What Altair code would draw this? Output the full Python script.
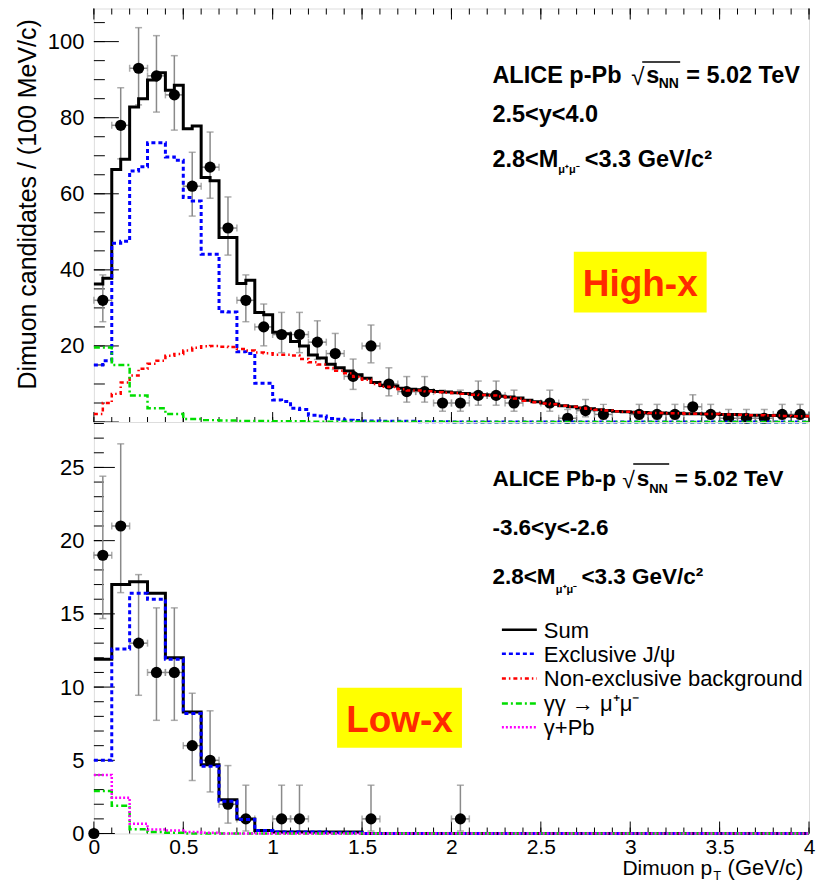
import altair as alt
import pandas as pd

FONT = "Liberation Sans"
GREY = "#8a8a8a"

# ---------------- measured points: p-Pb (high-x) ----------------
hx_x = [0.05, 0.15, 0.25, 0.35, 0.45, 0.55, 0.65, 0.75, 0.85, 0.95,
        1.05, 1.15, 1.25, 1.35, 1.45, 1.55, 1.65, 1.75, 1.85, 1.95,
        2.05, 2.15, 2.25, 2.35, 2.55, 2.65, 2.75, 2.85,
        3.05, 3.15, 3.25, 3.35, 3.45, 3.55, 3.65, 3.75, 3.85, 3.95]
hx_n = [32, 78, 93, 91, 86, 62, 67, 51, 32, 25,
        23, 23, 21, 18, 12, 20, 10, 8, 8, 5,
        5, 7, 7, 5, 5, 1, 3, 2,
        2, 2, 2, 4, 2, 1, 1, 1, 2, 2]
hx_elo = [5.63, 8.82, 9.63, 9.52, 9.26, 7.86, 8.17, 7.12, 5.63, 4.97,
          4.77, 4.77, 4.55, 4.20, 3.42, 4.44, 3.11, 2.77, 2.77, 2.16,
          2.16, 2.58, 2.58, 2.16, 2.16, 0.83, 1.63, 1.29,
          1.29, 1.29, 1.29, 1.91, 1.29, 0.83, 0.83, 0.83, 1.29, 1.29]
hx_ehi = [6.68, 9.88, 10.67, 10.57, 10.31, 8.91, 9.23, 8.17, 6.68, 6.02,
          5.82, 5.82, 5.61, 5.29, 4.55, 5.50, 4.26, 3.95, 3.95, 3.38,
          3.38, 3.77, 3.77, 3.38, 3.38, 2.30, 2.92, 2.64,
          2.64, 2.64, 2.64, 3.16, 2.64, 2.30, 2.30, 2.30, 2.64, 2.64]

# ---------------- measured points: Pb-p (low-x) ----------------
lx_x = [0.0, 0.05, 0.15, 0.25, 0.35, 0.45, 0.55, 0.65, 0.75, 0.85, 1.05, 1.15, 1.55, 2.05]
lx_n = [0, 19, 21, 13, 11, 11, 6, 5, 2, 1, 1, 1, 1, 1]
lx_elo = [0, 4.32, 4.55, 3.56, 3.27, 3.27, 2.38, 2.16, 1.29, 0.83, 0.83, 0.83, 0.83, 0.83]
lx_ehi = [0, 5.40, 5.61, 4.68, 4.41, 4.41, 3.58, 3.38, 2.64, 2.30, 2.30, 2.30, 2.30, 2.30]

# ---------------- fit templates, top panel (bins of 0.05) ----------------
top_sum = [36.3, 37.8, 66.4, 69.1, 82.8, 85.0, 89.9, 91.8, 87.2, 88.5,
           77.1, 77.8, 64.3, 63.4, 48.5, 48.5, 36.4, 37.3, 28.8, 28.2,
           23.6, 23.2, 21.2, 20.0, 17.6, 16.8, 15.2, 14.3, 13.4, 12.4,
           11.5, 10.4, 9.6, 9.5, 8.9, 8.6, 8.5, 8.3, 8.0, 7.9,
           7.7, 7.5, 7.3, 7.2, 7.1, 6.8, 6.6, 6.3, 5.7, 5.3,
           5.0, 4.7, 4.3, 4.0, 3.7, 3.5, 3.2, 3.0, 2.8, 2.7,
           2.6, 2.5, 2.4, 2.4, 2.3, 2.3, 2.2, 2.2, 2.1, 2.1,
           2.0, 2.0, 1.9, 1.8, 1.8, 1.7, 1.7, 1.6, 1.5, 1.5]
top_excl = [15.0, 16.1, 47.0, 47.5, 66.0, 67.1, 73.4, 73.4, 69.7, 68.8,
            59.0, 58.1, 44.1, 44.1, 29.0, 28.9, 18.5, 18.0, 10.2, 10.2,
            5.8, 5.4, 3.6, 3.3, 1.8, 1.6, 0.9, 0.7, 0.5, 0.4,
            0.3, 0.3, 0.2, 0.2, 0.2, 0.2, 0.1, 0.1, 0.1, 0.1,
            0.0, 0.0, 0.0, 0.0, 0.0, 0.0, 0.0, 0.0, 0.0, 0.0,
            0.0, 0.0, 0.0, 0.0, 0.0, 0.0, 0.0, 0.0, 0.0, 0.0,
            0.0, 0.0, 0.0, 0.0, 0.0, 0.0, 0.0, 0.0, 0.0, 0.0,
            0.0, 0.0, 0.0, 0.0, 0.0, 0.0, 0.0, 0.0, 0.0, 0.0]
top_nonexcl = [2.1, 5.0, 7.4, 10.4, 12.2, 14.0, 15.3, 16.1, 17.4, 17.9,
               18.8, 19.5, 19.9, 20.0, 19.8, 19.7, 19.2, 18.8, 18.3, 18.1,
               17.7, 17.7, 17.5, 16.6, 15.7, 15.1, 14.2, 13.5, 12.8, 11.9,
               11.1, 10.0, 9.3, 9.2, 8.6, 8.3, 8.3, 8.1, 7.8, 7.7,
               7.6, 7.4, 7.2, 7.1, 7.0, 6.7, 6.5, 6.2, 5.6, 5.2,
               4.9, 4.7, 4.3, 4.0, 3.7, 3.5, 3.2, 3.0, 2.8, 2.7,
               2.6, 2.5, 2.4, 2.4, 2.3, 2.3, 2.2, 2.2, 2.1, 2.1,
               2.0, 2.0, 1.9, 1.8, 1.8, 1.7, 1.7, 1.6, 1.5, 1.5]
# bins of 0.1
top_gg = [19.6, 15.0, 7.0, 3.6, 2.1, 0.8, 0.5, 0.4, 0.3, 0.3,
          0.2, 0.2, 0.1, 0.1, 0.1, 0.1, 0.1, 0.1, 0.1, 0.1,
          0.0, 0.0, 0.0, 0.0, 0.0, 0.0, 0.0, 0.0, 0.0, 0.0,
          0.0, 0.0, 0.0, 0.0, 0.0, 0.0, 0.0, 0.0, 0.0, 0.0]

# ---------------- fit templates, bottom panel (bins of 0.1) ----------------
bot_sum = [11.9, 17.0, 17.2, 16.4, 12.0, 8.3, 4.7, 2.3, 1.0, 0.2,
           0.1, 0.1, 0.1, 0.1, 0.1, 0.0, 0.0, 0.0, 0.0, 0.0,
           0.0, 0.0, 0.0, 0.0, 0.0, 0.0, 0.0, 0.0, 0.0, 0.0,
           0.0, 0.0, 0.0, 0.0, 0.0, 0.0, 0.0, 0.0, 0.0, 0.0]
bot_excl = [5.0, 12.6, 16.4, 16.0, 11.9, 8.2, 4.6, 2.2, 0.95, 0.2,
            0.1, 0.1, 0.1, 0.05, 0.05, 0.0, 0.0, 0.0, 0.0, 0.0,
            0.0, 0.0, 0.0, 0.0, 0.0, 0.0, 0.0, 0.0, 0.0, 0.0,
            0.0, 0.0, 0.0, 0.0, 0.0, 0.0, 0.0, 0.0, 0.0, 0.0]
bot_gg = [2.9, 1.9, 0.3, 0.1, 0.05, 0.0, 0.0, 0.0, 0.0, 0.0,
          0.0, 0.0, 0.0, 0.0, 0.0, 0.0, 0.0, 0.0, 0.0, 0.0,
          0.0, 0.0, 0.0, 0.0, 0.0, 0.0, 0.0, 0.0, 0.0, 0.0,
          0.0, 0.0, 0.0, 0.0, 0.0, 0.0, 0.0, 0.0, 0.0, 0.0]
bot_gpb = [4.0, 2.45, 0.67, 0.28, 0.2, 0.1, 0.05, 0.0, 0.0, 0.0,
           0.0, 0.0, 0.0, 0.0, 0.0, 0.0, 0.0, 0.0, 0.0, 0.0,
           0.0, 0.0, 0.0, 0.0, 0.0, 0.0, 0.0, 0.0, 0.0, 0.0,
           0.0, 0.0, 0.0, 0.0, 0.0, 0.0, 0.0, 0.0, 0.0, 0.0]

legend_labels = ["Sum", "Exclusive J/\u03c8", "Non-exclusive background",
                 "\u03b3\u03b3 \u2192 \u03bc\u207a\u03bc\u207b", "\u03b3+Pb"]

x_tick_labels = [0, 0.5, 1, 1.5, 2, 2.5, 3, 3.5, 4]
top_y_labels = [20, 40, 60, 80, 100]
bot_y_labels = [0, 5, 10, 15, 20, 25]

# ---------------- styles ----------------
W, HT, HB = 716, 414, 412
XS = alt.Scale(domain=[0, 4], nice=False, zero=False)
YS_TOP = alt.Scale(domain=[0, 108.7], nice=False, zero=False)
YS_BOT = alt.Scale(domain=[0, 28.1], nice=False, zero=False)

STY_SUM = dict(color="black", strokeWidth=3)
STY_EXCL = dict(color="#0000ff", strokeWidth=3, strokeDash=[4, 3])
STY_NON = dict(color="#ff0000", strokeWidth=2.5, strokeDash=[4, 3, 1.5, 3])
STY_GG = dict(color="#00dd00", strokeWidth=2.5, strokeDash=[6, 3, 2, 3])
STY_GPB = dict(color="#ff00ff", strokeWidth=2.5, strokeDash=[2, 2])


def axis_lab(values, pad, size, fmt=None):
    kw = dict(values=values, ticks=False, tickSize=0, domain=False, grid=False,
              labelFont=FONT, labelFontSize=size, labelPadding=pad, labelColor="black",
              labelFlush=False, labelOverlap=False, title=None)
    if fmt:
        kw["format"] = fmt
    return alt.Axis(**kw)


AX_Y_TOP = axis_lab(top_y_labels, 10, 22)
AX_Y_BOT = axis_lab(bot_y_labels, 10, 22)
AX_X_BOT = axis_lab(x_tick_labels, 3, 21, "~g")

ONE = pd.DataFrame({"k": [0]})


def points_layers(xv, nv, elo, ehi, ys, xax, yax):
    df = pd.DataFrame({"x": xv, "n": nv})
    df["lo"] = [n - e for n, e in zip(nv, elo)]
    df["hi"] = [n + e for n, e in zip(nv, ehi)]
    df["xl"] = [x - 0.05 for x in xv]
    df["xr"] = [x + 0.05 for x in xv]
    base = alt.Chart(df)
    err = base.transform_filter("datum.n > 0")
    X = alt.X("x:Q", scale=XS, axis=xax)
    vbar = err.mark_rule(color=GREY, strokeWidth=1.5).encode(
        x=X, y=alt.Y("lo:Q", scale=ys, axis=yax), y2="hi:Q")
    cap_t = err.mark_tick(color=GREY, orient="horizontal", size=7, thickness=1.5).encode(
        x=X, y=alt.Y("hi:Q", scale=ys, axis=yax))
    cap_b = err.mark_tick(color=GREY, orient="horizontal", size=7, thickness=1.5).encode(
        x=X, y=alt.Y("lo:Q", scale=ys, axis=yax))
    hbar = err.mark_rule(color=GREY, strokeWidth=1.5).encode(
        x=alt.X("xl:Q", scale=XS, axis=xax), x2="xr:Q", y=alt.Y("n:Q", scale=ys, axis=yax))
    cap_l = err.mark_tick(color=GREY, orient="vertical", size=7, thickness=1.5).encode(
        x=alt.X("xl:Q", scale=XS, axis=xax), y=alt.Y("n:Q", scale=ys, axis=yax))
    cap_r = err.mark_tick(color=GREY, orient="vertical", size=7, thickness=1.5).encode(
        x=alt.X("xr:Q", scale=XS, axis=xax), y=alt.Y("n:Q", scale=ys, axis=yax))
    dots = base.mark_circle(size=125, color="black", opacity=1).encode(
        x=X, y=alt.Y("n:Q", scale=ys, axis=yax))
    return [vbar, cap_t, cap_b, hbar, cap_l, cap_r, dots]


def step_layer(vals, width, style, ys, xax, yax):
    edges = [round(i * width, 4) for i in range(len(vals) + 1)]
    df = pd.DataFrame({"x": edges, "y": list(vals) + [vals[-1]]})
    return alt.Chart(df).mark_line(interpolate="step-after", **style).encode(
        x=alt.X("x:Q", scale=XS, axis=xax), y=alt.Y("y:Q", scale=ys, axis=yax))


def yticks(vals, length, ys, yax):
    return alt.Chart(pd.DataFrame({"v": vals})).mark_rule(color="black", strokeWidth=1).encode(
        y=alt.Y("v:Q", scale=ys, axis=yax), x=alt.value(0), x2=alt.value(length))


def xticks(vals, y0, y1, xax):
    return alt.Chart(pd.DataFrame({"v": vals})).mark_rule(color="black", strokeWidth=1).encode(
        x=alt.X("v:Q", scale=XS, axis=xax), y=alt.value(y0), y2=alt.value(y1))


def txt(s, x, y, size, bold=True, align="left", baseline="alphabetic", color="black", angle=0):
    return alt.Chart(ONE).mark_text(
        text=s, align=align, baseline=baseline, fontSize=size, font=FONT,
        fontWeight="bold" if bold else "normal", color=color, angle=angle
    ).encode(x=alt.value(x), y=alt.value(y))


def box(x1, x2, y1, y2, color="#ffff00"):
    return alt.Chart(ONE).mark_rect(color=color).encode(
        x=alt.value(x1), x2=alt.value(x2), y=alt.value(y1), y2=alt.value(y2))


def hline(x1, x2, y, style):
    return alt.Chart(ONE).mark_rule(**style).encode(
        x=alt.value(x1), x2=alt.value(x2), y=alt.value(y))


x_minor = [round(0.1 * i, 2) for i in range(41)]
x_major = [round(0.5 * i, 2) for i in range(9)]

# ---------------- top panel ----------------
top_layers = [
    yticks([5 * i for i in range(22)], 11, YS_TOP, AX_Y_TOP),
    yticks([20 * i for i in range(6)], 25, YS_TOP, AX_Y_TOP),
    xticks(x_minor, HT, HT - 5, None),
    xticks(x_major, HT, HT - 10, None),
    xticks(x_minor, 0, 6, None),
    xticks(x_major, 0, 11, None),
    box(480.5, 613.5, 243.4, 304.4),
    txt("High-x", 547, 287.7, 37, align="center", color="#ff2a00"),
    txt("ALICE p-Pb", 399, 74.4, 23.5),
    txt("\u221a", 538, 77, 24, bold=False),
    hline(549, 587, 53.5, dict(color="black", strokeWidth=1.5)),
    txt("s", 553, 74.4, 23.5),
    txt("NN", 565.5, 80, 14),
    txt("= 5.02 TeV", 593, 74.4, 23.5),
    txt("2.5<y<4.0", 399, 113.7, 23.5),
    txt("2.8<M", 399, 158.4, 23.5),
    txt("\u03bc\u207a\u03bc\u207b", 465, 165, 11),
    txt("<3.3 GeV/c\u00b2", 491.5, 158.4, 23.5),
    txt("Dimuon candidates / (100 MeV/c)", -65.5, 10.7, 25, bold=False,
        align="right", baseline="middle", angle=270),
]
top_layers += points_layers(hx_x, hx_n, hx_elo, hx_ehi, YS_TOP, None, AX_Y_TOP)
top_layers += [
    step_layer(top_sum, 0.05, STY_SUM, YS_TOP, None, AX_Y_TOP),
    step_layer(top_excl, 0.05, STY_EXCL, YS_TOP, None, AX_Y_TOP),
    step_layer(top_nonexcl, 0.05, STY_NON, YS_TOP, None, AX_Y_TOP),
    step_layer(top_gg, 0.1, STY_GG, YS_TOP, None, AX_Y_TOP),
]
top = alt.layer(*top_layers).properties(width=W, height=HT)

# ---------------- bottom panel ----------------
bot_layers = [
    yticks([i for i in range(29)], 10, YS_BOT, AX_Y_BOT),
    yticks([5 * i for i in range(6)], 21, YS_BOT, AX_Y_BOT),
    xticks(x_minor, HB, HB - 6, AX_X_BOT),
    xticks(x_major, HB, HB - 12, AX_X_BOT),
    box(243.5, 368.5, 266, 326),
    txt("Low-x", 306, 310.7, 37, align="center", color="#ff2a00"),
    txt("ALICE Pb-p", 399, 64, 22.5),
    txt("\u221a", 529, 66.5, 23, bold=False),
    hline(540, 576, 42, dict(color="black", strokeWidth=1.5)),
    txt("s", 543.5, 64, 22.5),
    txt("NN", 556, 70.7, 13),
    txt("= 5.02 TeV", 581.5, 64, 22.5),
    txt("-3.6<y<-2.6", 399, 113, 22.5),
    txt("2.8<M", 399, 161.7, 22.5),
    txt("\u03bc\u207a\u03bc\u207b", 462.5, 170.7, 11),
    txt("<3.3 GeV/c\u00b2", 488.2, 161.7, 22.5),
    txt("Dimuon p", 619, 454, 21, bold=False, align="right"),
    txt("T", 620, 459, 13, bold=False),
    txt("(GeV/c)", 634.5, 454, 22, bold=False),
]
leg_rows = [208, 232, 256.7, 281.7, 305.7]
leg_styles = [STY_SUM, STY_EXCL, STY_NON, STY_GG, STY_GPB]
for lab, row, sty in zip(legend_labels, leg_rows, leg_styles):
    s = dict(sty)
    s["strokeWidth"] = min(s["strokeWidth"], 2.5)
    bot_layers.append(hline(408.5, 443.5, row, s))
    bot_layers.append(txt(lab, 450.5, row + 1, 22, bold=False, baseline="middle"))

bot_layers += points_layers(lx_x, lx_n, lx_elo, lx_ehi, YS_BOT, AX_X_BOT, AX_Y_BOT)
bot_layers += [
    step_layer(bot_sum, 0.1, STY_SUM, YS_BOT, AX_X_BOT, AX_Y_BOT),
    step_layer(bot_excl, 0.1, STY_EXCL, YS_BOT, AX_X_BOT, AX_Y_BOT),
    step_layer(bot_gg, 0.1, STY_GG, YS_BOT, AX_X_BOT, AX_Y_BOT),
    step_layer(bot_gpb, 0.1, STY_GPB, YS_BOT, AX_X_BOT, AX_Y_BOT),
]
bottom = alt.layer(*bot_layers).properties(width=W, height=HB)

chart = alt.vconcat(top, bottom, spacing=0, bounds="flush").properties(
    padding={"left": 16, "top": 7, "right": 5, "bottom": 2}
).configure_view(stroke="black", strokeWidth=1.5).configure(background="white")

chart.save("out.html", embed_options={"renderer": "svg", "actions": False})
